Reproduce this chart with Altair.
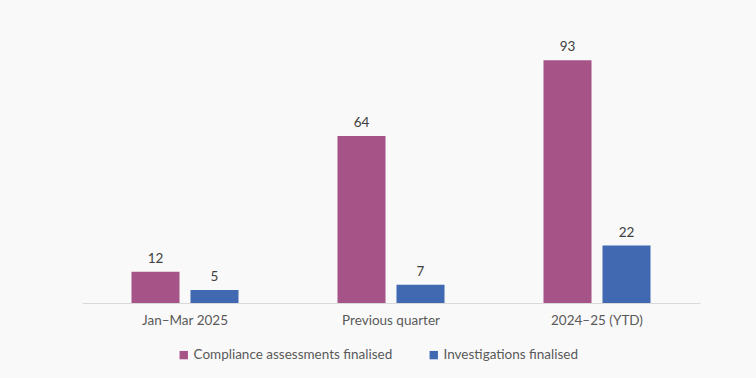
import altair as alt
import pandas as pd

periods = ["Jan–Mar 2025", "Previous quarter", "2024–25 (YTD)"]
series = ["Compliance assessments finalised", "Investigations finalised"]
compliance = [12, 64, 93]
investigations = [5, 7, 22]
colors = ["#A65387", "#4169B1"]

rows = []
for i, p in enumerate(periods):
    rows.append({"period": p, "series": series[0], "value": compliance[i]})
    rows.append({"period": p, "series": series[1], "value": investigations[i]})
df = pd.DataFrame(rows)

FONT = "Lato"

base = alt.Chart(df).encode(
    x=alt.X("period:N", sort=periods, title=None,
            scale=alt.Scale(paddingInner=0, paddingOuter=0),
            axis=alt.Axis(labelAngle=0, ticks=False, domainColor="#d9d9d9",
                          labelColor="#595959", labelFontSize=13.5, labelFont=FONT,
                          labelPadding=10, grid=False)),
    xOffset=alt.XOffset("series:N", sort=series,
                        scale=alt.Scale(paddingInner=0.186, paddingOuter=0.839)),
    y=alt.Y("value:Q", scale=alt.Scale(domain=[0, 100]), axis=None),
)

bars = base.mark_bar().encode(
    color=alt.Color("series:N", sort=series, title=None,
                    scale=alt.Scale(domain=series, range=colors),
                    legend=alt.Legend(orient="none", legendX=95, legendY=306,
                                      direction="horizontal", symbolType="square",
                                      symbolSize=70, symbolStrokeWidth=0,
                                      labelFont=FONT, labelFontSize=13.5,
                                      labelColor="#595959", columnPadding=34,
                                      labelOffset=3, labelLimit=400))
)

labels = base.mark_text(baseline="bottom", dy=-6, font=FONT, fontSize=13.5,
                        color="#404040").encode(text="value:Q")

chart = (bars + labels).properties(
    width=618, height=261, background="#f9f9f9",
    autosize=alt.AutoSizeParams(type="none"),
    padding={"left": 82, "top": 42, "right": 56, "bottom": 75},
).configure_view(stroke=None)

chart.save("out.html", embed_options={"renderer": "svg", "actions": False})
